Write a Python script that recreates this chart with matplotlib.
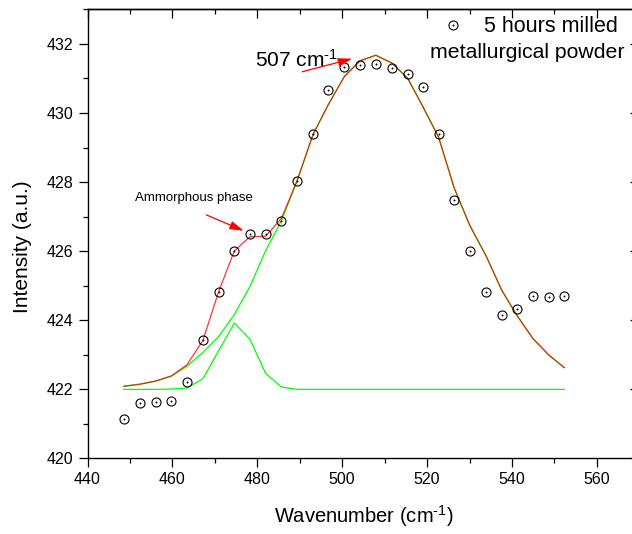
import matplotlib
matplotlib.use("Agg")
import matplotlib.pyplot as plt
from matplotlib.ticker import MultipleLocator
from matplotlib.legend_handler import HandlerTuple

# ---------- datos ----------
wavenumber = [448.56, 452.33, 456.04, 459.74, 463.42, 467.19, 470.90, 474.60,
              478.28, 481.98, 485.68, 489.36, 493.14, 496.77, 500.54, 504.22,
              507.92, 511.63, 515.40, 518.94, 522.71, 526.39, 530.09, 533.87,
              537.64, 541.18, 544.95, 548.73, 552.33]

intensity = [421.15, 421.62, 421.63, 421.66, 422.20, 423.42, 424.82, 426.01,
             426.50, 426.50, 426.88, 428.03, 429.40, 430.65, 431.33, 431.39,
             431.42, 431.31, 431.14, 430.76, 429.40, 427.48, 426.01, 424.82,
             424.14, 424.33, 424.69, 424.67, 424.71]

# pico principal (507 cm-1)
main_peak = [422.09, 422.15, 422.24, 422.38, 422.67, 423.07, 423.53, 424.17,
             424.98, 426.02, 426.88, 428.03, 429.38, 430.25, 431.06, 431.51,
             431.67, 431.45, 431.01, 430.20, 429.30, 427.83, 426.74, 425.87,
             424.86, 424.14, 423.47, 422.99, 422.63]

# fase amorfa
small_peak = [422.00, 422.00, 422.00, 422.01, 422.04, 422.31, 423.12, 423.92,
              423.45, 422.46, 422.07, 422.00, 422.00, 422.00, 422.00, 422.00,
              422.00, 422.00, 422.00, 422.00, 422.00, 422.00, 422.00, 422.00,
              422.00, 422.00, 422.00, 422.00, 422.00]

# ajuste acumulado
cumulative_fit = [422.09, 422.15, 422.24, 422.39, 422.71, 423.42, 424.83, 426.01,
                  426.42, 426.43, 426.95, 428.03, 429.38, 430.25, 431.06, 431.51,
                  431.67, 431.45, 431.01, 430.20, 429.30, 427.83, 426.74, 425.87,
                  424.86, 424.14, 423.47, 422.99, 422.63]

peak_arrow = ((490.54, 431.19), (502.33, 431.57))
amorph_arrow = ((468.0, 427.05), (476.8, 426.59))

plt.rcParams.update({
    "font.family": "Liberation Sans",
    "mathtext.default": "regular",
    "axes.linewidth": 1.0,
})

SUP = "$^{\u2010" + "1}$"  # guion normal, no signo menos

fig = plt.figure(figsize=(6.32, 5.34), dpi=100)
ax = fig.add_axes([0.1385, 0.1414, 0.873, 0.8412])

ax.plot(wavenumber, small_peak, color="#00ff00", lw=0.9)
ax.plot(wavenumber, main_peak, color="#00ff00", lw=0.9)
ax.plot(wavenumber, cumulative_fit, color="#ff0000", lw=0.9, alpha=0.8)
circ, = ax.plot(wavenumber, intensity, ls="none", marker="o", ms=6.5,
                mfc="none", mec="black", mew=0.8)
dot, = ax.plot(wavenumber, intensity, ls="none", marker="o", ms=1.0,
               mfc="black", mec="black", mew=0.3)

ax.legend([(circ, dot)], ["5 hours milled"], handler_map={tuple: HandlerTuple()},
          loc="center left", bbox_to_anchor=(442.6 / 632, 1 - 27 / 534),
          bbox_transform=fig.transFigure, frameon=False, borderpad=0,
          borderaxespad=0, handlelength=1.0, handletextpad=0.94, fontsize=15.5)
fig.text(430 / 632, 1 - 52 / 534, "metallurgical powder", fontsize=15.3, va="center")

ax.text(479.4, 431.35, "507 cm" + SUP, fontsize=15, va="baseline")
ax.text(451.1, 427.55, "Ammorphous phase", fontsize=9.5, va="center")

arrow_style = dict(arrowstyle="-|>,head_length=0.6,head_width=0.18", color="red",
                   lw=0.9, mutation_scale=14, shrinkA=0, shrinkB=0)
ax.annotate("", xy=peak_arrow[1], xytext=peak_arrow[0], arrowprops=arrow_style)
ax.annotate("", xy=amorph_arrow[1], xytext=amorph_arrow[0], arrowprops=arrow_style)

ax.set_xlim(440, 570)
ax.set_ylim(420, 433)
ax.xaxis.set_major_locator(MultipleLocator(20))
ax.xaxis.set_minor_locator(MultipleLocator(10))
ax.yaxis.set_major_locator(MultipleLocator(2))
ax.yaxis.set_minor_locator(MultipleLocator(1))
ax.tick_params(which="both", direction="out", top=False, right=False,
               labelsize=11.5, width=0.9)
ax.tick_params(which="major", length=6.5)
ax.tick_params(which="minor", length=3.5)
ax.tick_params(axis="y", pad=4)
ax.tick_params(axis="x", pad=3)

top = ax.secondary_xaxis("top")
top.xaxis.set_major_locator(MultipleLocator(20))
top.xaxis.set_minor_locator(MultipleLocator(10))
top.tick_params(which="both", direction="in", labeltop=False, width=0.9)
top.tick_params(which="major", length=6.5)
top.tick_params(which="minor", length=3.5)

right = ax.secondary_yaxis("right")
right.yaxis.set_major_locator(MultipleLocator(2))
right.yaxis.set_minor_locator(MultipleLocator(1))
right.tick_params(which="both", direction="in", labelright=False, width=0.9)
right.tick_params(which="major", length=6.5)
right.tick_params(which="minor", length=3.5)

ax.set_xlabel("Wavenumber (cm" + SUP + ")", fontsize=14.5)
ax.xaxis.set_label_coords(0.5, -0.1)
ax.set_ylabel("Intensity (a.u.)", fontsize=15)
ax.yaxis.set_label_coords(-0.1, 0.472)

fig.savefig("out.png", dpi=100)
plt.close(fig)
